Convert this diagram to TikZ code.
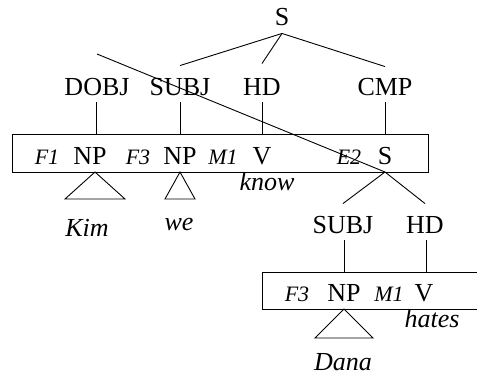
\documentclass[tikz,border=0pt]{standalone}
\usepackage{fontspec}
\setmainfont{Liberation Serif}
\begin{document}
\begin{tikzpicture}[x=1pt,y=-1pt,line width=0.9pt,
  lbl/.style={anchor=base,inner sep=0pt,text height=17pt,text depth=0pt,font=\fontsize{26}{30}\selectfont},
  word/.style={anchor=base,inner sep=0pt,font=\fontsize{26}{30}\selectfont\itshape},
  tag/.style={anchor=base,inner sep=0pt,font=\fontsize{22}{26}\selectfont\itshape},
  boxn/.style={draw,inner sep=0pt,minimum height=#1}]
\useasboundingbox (0,0) rectangle (477,376);
% boxes
\node[boxn=38pt,minimum width=416pt] (box1) at (220,153) {};
\node[boxn=37pt,minimum width=220pt] (box2) at (372,290.5) {};
% top level
\node[lbl] (s0) at (282,25) {S};
\node[lbl] (dobj) at (97,95) {DOBJ};
\node[lbl] (subj) at (180,95) {SUBJ};
\node[lbl] (hd) at (262,95) {HD};
\node[lbl] (cmp) at (385,95) {CMP};
% box 1 contents
\node[tag] (f1) at (47,164) {F1};
\node[lbl] (np1) at (90,164) {NP};
\node[tag] (f3) at (138,164) {F3};
\node[lbl] (np2) at (180,164) {NP};
\node[tag] (m1) at (223,164) {M1};
\node[lbl] (v1) at (262,164) {V};
\node[tag] (e2) at (349,164) {E2};
\node[lbl] (s1) at (385,164) {S};
\node[word] (know) at (267,190) {know};
\node[word] (kim) at (87,236) {Kim};
\node[word] (we) at (179,230) {we};
% lower clause
\node[lbl] (subj2) at (343,233) {SUBJ};
\node[lbl] (hd2) at (425,233) {HD};
\node[tag] (f3b) at (297,301) {F3};
\node[lbl] (np3) at (344,301) {NP};
\node[tag] (m1b) at (389,301) {M1};
\node[lbl] (v2) at (424,301) {V};
\node[word] (hates) at (432,327) {hates};
\node[word] (dana) at (343,370) {Dana};
% attachment points
\coordinate (lstart) at (97,54);
\coordinate (a1) at (95,172);
\coordinate (a2) at (180,172);
\coordinate (a3) at (385,172);
\coordinate (a4) at (344,309);
% connectors top
\draw ([yshift=-8pt]s0.south) -- ([yshift=12pt]subj.north);
\draw ([yshift=-8pt]s0.south) -- ([yshift=14pt]hd.north);
\draw ([yshift=-8pt]s0.south) -- ([yshift=11pt]cmp.north);
\draw ([xshift=-1pt,yshift=-7pt]dobj.south) -- ([xshift=-1pt]dobj.south |- box1.north);
\draw ([yshift=-7pt]subj.south) -- (subj.south |- box1.north);
\draw ([yshift=-7pt]hd.south) -- (hd.south |- box1.north);
\draw ([yshift=-7pt]cmp.south) -- (cmp.south |- box1.north);
\draw (lstart) -- (a3);
% triangles
\draw (a1) -- ++(-30,27) -- ++(60,0) -- cycle;
\draw (a2) -- ++(-15,27) -- ++(30,0) -- cycle;
\draw (a4) -- ++(-29,29) -- ++(58,0) -- cycle;
% lower
\draw (a3) -- ([yshift=12pt]subj2.north);
\draw (a3) -- ([yshift=12pt]hd2.north);
\draw ([xshift=1pt,yshift=-7pt]subj2.south) -- ([xshift=1pt]subj2.south |- box2.north);
\draw ([xshift=1pt,yshift=-7pt]hd2.south) -- ([xshift=1pt]hd2.south |- box2.north);
\end{tikzpicture}
\end{document}
